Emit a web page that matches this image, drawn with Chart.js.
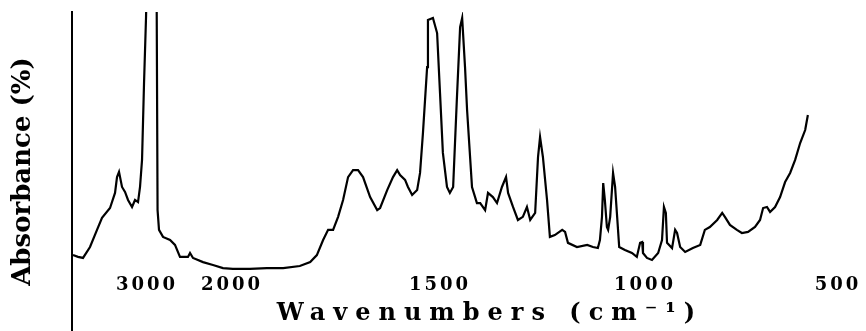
<!DOCTYPE html>
<html>
<head>
<meta charset="utf-8">
<title>IR spectrum</title>
<script src="https://cdn.jsdelivr.net/npm/chart.js@4.4.0/dist/chart.umd.min.js"></script>
<style>
  html, body { margin: 0; padding: 0; background: #fff; }
  canvas { display: block; }
</style>
</head>
<body>
<canvas id="grafico" width="866" height="331"></canvas>
<script>
// spectrum: wavenumber (cm-1) and absorbance (arbitrary units, 0 = baseline)
var wavenumbers = [
  3888, 3828, 3768, 3684, 3600, 3540, 3444, 3384, 3360, 3336,
  3300, 3264, 3228, 3180, 3144, 3108, 3084, 3060, 3036, 3012,
  3000, 2953, 2888, 2876, 2859, 2812, 2729, 2671, 2612, 2518,
  2494, 2459, 2341, 2224, 2106, 1998, 1957, 1916, 1877, 1837,
  1812, 1796, 1781, 1769, 1757, 1745, 1733, 1721, 1709, 1697,
  1685, 1668, 1651, 1644, 1627, 1613, 1603, 1596, 1584, 1577,
  1567, 1555, 1548, 1541, 1531, 1529, 1517, 1507, 1500, 1493,
  1483, 1476, 1468, 1459, 1451, 1446, 1439, 1434, 1422, 1410,
  1402, 1390, 1383, 1371, 1361, 1349, 1339, 1334, 1322, 1310,
  1298, 1288, 1280, 1268, 1261, 1256, 1249, 1239, 1232, 1220,
  1202, 1195, 1188, 1166, 1141, 1127, 1115, 1110, 1105, 1102,
  1098, 1093, 1090, 1085, 1078, 1073, 1068, 1063, 1049, 1032,
  1020, 1012, 1007, 1005, 995, 982, 966, 956, 951, 946,
  943, 930, 922, 917, 909, 896, 876, 857, 845, 832,
  813, 800, 793, 780, 762, 749, 733, 715, 702, 694,
  684, 676, 663, 650, 637, 624, 611, 598, 585, 578
];
var absorbance = [
  6.5, 5.8, 5.4, 9.6, 16.2, 20.8, 24.6, 30.4, 36.5, 38.5,
  32.7, 30.8, 27.7, 25, 27.7, 26.9, 32.7, 43.1, 72.7, 98,
  115, 112, 115, 23.8, 16.2, 13.5, 12.3, 10.4, 5.8, 5.8,
  7.3, 5.4, 3.8, 2.7, 1.5, 1.2, 1.2, 1.5, 1.5, 2.3,
  3.8, 6.5, 12.3, 16.2, 16.2, 21.2, 27.7, 36.5, 39.2, 39.2,
  36.5, 28.8, 23.8, 24.6, 31.5, 36.5, 39.2, 37.3, 35.4, 32.7,
  29.6, 31.5, 38.1, 53.5, 78.8, 96.9, 97.7, 91.9, 68.8, 45.8,
  32.7, 30.4, 32.7, 66.2, 94.2, 97.7, 78.8, 62.3, 32.7, 26.5,
  26.5, 23.8, 30.4, 28.8, 26.5, 32.7, 36.5, 30.4, 25, 20,
  21.2, 25, 20, 22.7, 44.2, 51.9, 44.2, 27.7, 13.5, 14.2,
  16.2, 15.4, 11.2, 9.6, 10.4, 9.6, 9.2, 12.3, 21.2, 34.2,
  27.7, 17.3, 16.2, 21.2, 38.1, 32.7, 21.2, 9.6, 8.5, 7.3,
  5.8, 11.2, 11.5, 7.3, 5.4, 4.6, 7.3, 12.3, 25, 22.7,
  11.2, 9.2, 16.2, 15, 9.6, 7.7, 9.2, 10.4, 16.2, 17.3,
  20, 22.7, 21.2, 18.1, 16.2, 15, 15.4, 17.3, 20, 24.6,
  25, 23.1, 25, 28.8, 34.6, 38.1, 43.1, 49.6, 54.6, 60.4
];

// x tick labels
var tickWn = [3000, 2000, 1500, 1000, 500];
var tickLabels = ['3000', '2000', '1500', '1000', '500'];

// the x axis is broken: above 2000 cm-1 it is squeezed (axis position in % of width)
var axisWn = [3900, 3000, 2000, 1500, 1000, 500, 428];
var axisPos = [0, 9.45, 20.15, 46.35, 72.17, 96.47, 100];

function toPos(w) {
  for (var i = 0; i < axisWn.length - 1; i++) {
    if (w <= axisWn[i] && w >= axisWn[i + 1]) {
      var t = (axisWn[i] - w) / (axisWn[i] - axisWn[i + 1]);
      return axisPos[i] + t * (axisPos[i + 1] - axisPos[i]);
    }
  }
  return w > axisWn[0] ? axisPos[0] : axisPos[axisPos.length - 1];
}

var punti = [];
for (var i = 0; i < wavenumbers.length; i++) {
  punti.push({x: toPos(wavenumbers[i]), y: absorbance[i]});
}

// the bottom text in the figure is wide, so spread its letters out
var spaziatura = {
  id: 'spaziatura',
  afterLayout: function (chart) {
    var sx = chart.scales.x;
    if (sx._spaced) return;
    sx._spaced = true;
    var drawLabels = sx.drawLabels, drawTitle = sx.drawTitle;
    sx.drawLabels = function (area) {
      var c = this.ctx;
      c.save();
      c.letterSpacing = '3px';
      drawLabels.call(this, area);
      c.restore();
    };
    sx.drawTitle = function () {
      var c = this.ctx;
      c.save();
      c.letterSpacing = '8px';
      c.translate(21, 0);
      drawTitle.call(this);
      c.restore();
    };
  }
};

var bold = function (size) {
  return {family: "'DejaVu Serif', serif", size: size, weight: 'bold'};
};

new Chart(document.getElementById('grafico'), {
  type: 'scatter',
  data: {
    datasets: [{
      data: punti,
      showLine: true,
      borderColor: '#000',
      borderWidth: 2.2,
      pointRadius: 0,
      tension: 0
    }]
  },
  options: {
    responsive: false,
    animation: false,
    layout: {padding: {top: 12, left: 0, right: 0, bottom: 0}},
    plugins: {legend: {display: false}, tooltip: {enabled: false}},
    scales: {
      x: {
        type: 'linear',
        min: 0,
        max: 100,
        position: {y: 0},
        grid: {display: false, drawTicks: false},
        border: {display: false},
        afterBuildTicks: function (s) {
          s.ticks = tickWn.map(function (w) { return {value: toPos(w)}; });
        },
        ticks: {
          autoSkip: false,
          maxRotation: 0,
          padding: 3,
          color: '#000',
          font: bold(18),
          callback: function (v, i) { return tickLabels[i]; }
        },
        title: {display: true, text: 'Wavenumbers (cm⁻¹)', color: '#000', font: bold(24), padding: 0}
      },
      y: {
        min: -22.7,
        max: 100,
        grid: {display: false, drawTicks: false},
        border: {display: true, color: '#000', width: 2},
        ticks: {display: false},
        title: {display: true, text: 'Absorbance (%)', color: '#000', font: bold(26), padding: {top: 8, bottom: 0}},
        afterFit: function (s) { s.width = 72; }
      }
    }
  },
  plugins: [spaziatura]
});
</script>
</body>
</html>
